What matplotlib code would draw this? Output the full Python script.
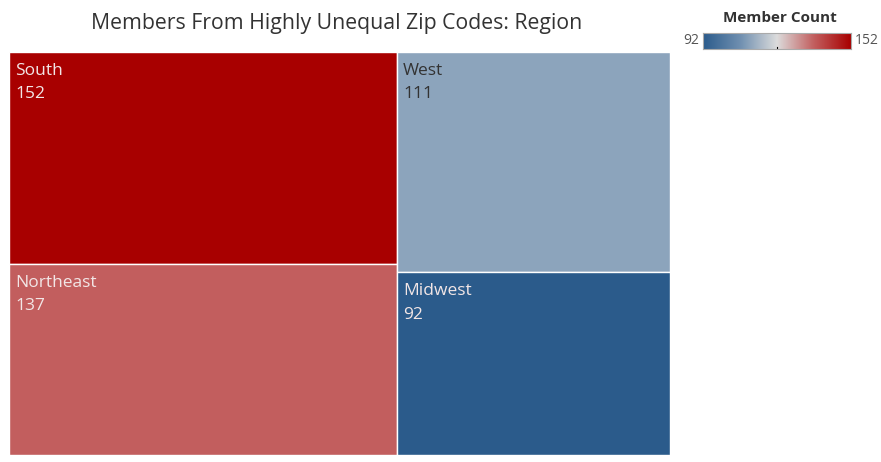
import numpy as np
import matplotlib
matplotlib.use('Agg')
import matplotlib.pyplot as plt
from matplotlib.colors import LinearSegmentedColormap, Normalize
from matplotlib.patches import Rectangle

# data
regions = ['South', 'Northeast', 'West', 'Midwest']
counts = [152, 137, 111, 92]
# columns of the treemap (indices into regions)
columns = [[0, 1], [2, 3]]

plt.rcParams['font.family'] = ['Open Sans', 'DejaVu Sans']

cmap = LinearSegmentedColormap.from_list(
    'tab_rdbu', ['#2b5b8b', '#6f8fb0', '#dcdcdc', '#c25f5f', '#a80000'])
norm = Normalize(vmin=min(counts), vmax=max(counts))

W, H = 881, 462
fig = plt.figure(figsize=(W / 100, H / 100), dpi=100)

# treemap axes
ax = fig.add_axes([9 / W, 7 / H, 661 / W, 403 / H])
ax.set_xlim(0, 1)
ax.set_ylim(0, 1)
ax.axis('off')

total = sum(counts)
x0 = 0
for col in columns:
    col_sum = sum(counts[i] for i in col)
    w = col_sum / total
    y_top = 1
    for i in col:
        h = counts[i] / col_sum
        color = cmap(norm(counts[i]))
        ax.add_patch(Rectangle((x0, y_top - h), w, h, facecolor=color,
                               edgecolor='white', linewidth=1))
        lum = 0.299 * color[0] + 0.587 * color[1] + 0.114 * color[2]
        tc = '#333333' if lum > 0.6 else '#f2e6e6'
        ax.text(x0 + 0.009, y_top - 0.027, regions[i], color=tc,
                fontsize=12.5, va='top', ha='left')
        ax.text(x0 + 0.009, y_top - 0.085, str(counts[i]), color=tc,
                fontsize=12.5, va='top', ha='left')
        y_top -= h
    x0 += w

fig.text(337 / W, 1 - 24 / H, 'Members From Highly Unequal Zip Codes: Region',
         ha='center', va='center', fontsize=15.3, color='#333333')

# colour legend
cax = fig.add_axes([703 / W, 1 - 49 / H, 148 / W, 16 / H])
grad = np.linspace(0, 1, 256).reshape(1, -1)
cax.imshow(grad, aspect='auto', cmap=cmap, extent=[0, 1, 0, 1])
cax.set_xticks([])
cax.set_yticks([])
for s in cax.spines.values():
    s.set_color('#aaaaaa')
    s.set_linewidth(0.8)
cax.plot([0.5, 0.5], [0, 0.15], color='black', lw=0.8)
fig.text(780 / W, 1 - 18 / H, 'Member Count', ha='center', va='center',
         fontsize=11, fontweight='bold', color='#333333')
fig.text(699 / W, 1 - 41 / H, str(min(counts)), ha='right', va='center',
         fontsize=10, color='#555555')
fig.text(855 / W, 1 - 41 / H, str(max(counts)), ha='left', va='center',
         fontsize=10, color='#555555')

fig.savefig('out.png', dpi=100)
